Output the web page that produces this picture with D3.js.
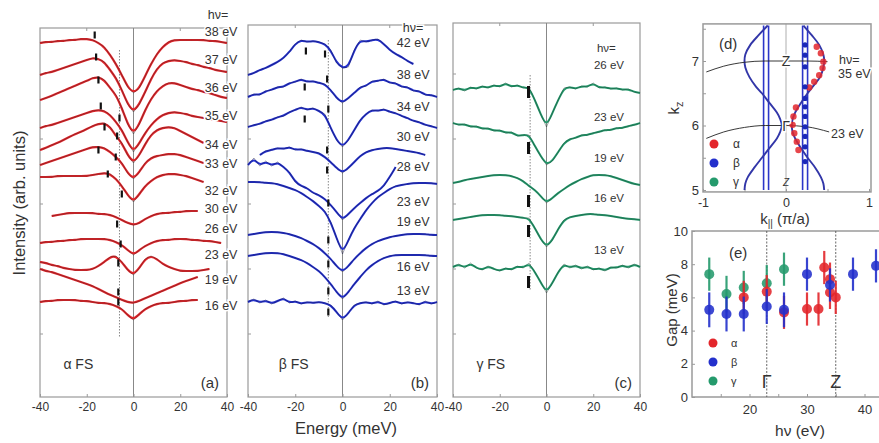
<!DOCTYPE html>
<html>
<head>
<meta charset="utf-8">
<script src="https://cdn.jsdelivr.net/npm/d3@7"></script>
<style>
  body { margin: 0; background: #fff; }
  text { font-family: "Liberation Sans", Arial, sans-serif; fill: #333; }
</style>
</head>
<body>
<svg id="fig" width="879" height="443"></svg>
<script>
// ---------- DATA ----------
// energy grid (meV) shared by all EDC curves
const energyGrid = [-40,-37.5,-35,-32.5,-30,-27.5,-25,-22.5,-20,-17.5,-15,-12.5,-10,-7.5,-5,-2.5,0,
  2.5,5,7.5,10,12.5,15,17.5,20,22.5,25,27.5,30,32.5,35,37.5,40];

// (a) alpha FS, intensity in arb. units (offset curves)
const hvA = [38,37,36,35,34,33,32,30,26,23,19,16];
const edcA = [
  [357,358,358,359,359,360,360,361,361,360,357,353,345,336,325,313,307,312,324,336,346,353,358,360,360,360,360,360,360,359,359,358,357],
  [325,327,328,330,332,334,336,338,340,342,341,338,330,322,310,296,288,296,308,321,331,337,339,340,339,338,336,335,333,332,330,329,328],
  [300,302,304,307,309,312,314,317,319,322,323,320,312,305,292,276,266,276,290,301,309,314,317,317,315,313,311,310,308,307,305,303,302],
  [272,274,275,277,279,281,283,285,287,289,290,289,285,278,270,258,248,257,267,275,281,285,287,288,287,286,284,283,282,281,280,279,278],
  [250,252,255,257,260,263,266,268,271,274,276,277,273,264,257,245,237,245,256,265,270,272,273,272,269,266,263,260,257,null,null,null,null],
  [235,237,239,241,243,245,247,249,251,253,253,252,248,243,237,227,221,228,237,242,244,245,246,246,245,243,241,239,237,null,null,null,null],
  [223,223,223,224,224,224,224,224,224,225,226,227,226,221,214,205,198,206,214,219,223,225,226,226,225,224,222,220,218,null,null,null,null],
  [null,null,184,185,186,187,187,187,187,187,186,186,185,183,180,177,175,177,181,184,186,187,187,188,188,189,189,189,null,null,null,null,null],
  [157,158,158,159,159,160,160,161,161,161,161,161,160,158,155,150,145,150,154,157,159,160,160,161,161,161,160,160,159,159,158,157,null],
  [138,137,135,134,132,131,130,130,130,131,134,138,143,144,138,130,125,132,141,144,141,136,133,131,129,129,129,129,130,131,null,null,null],
  [131,129,128,126,124,122,120,118,116,114,111,108,105,103,100,98,97,99,102,104,107,109,112,114,117,119,121,123,null,null,null,null,null],
  [98,99,99,100,100,100,100,99,99,98,97,97,96,94,91,85,80,86,91,94,96,97,97,98,99,99,100,100,null,null,null,null,null]
];
const labelLevelA = [368,340,312,284,255,236,209,191,171,145,120,94];
const gapMarksA = [[-16.6,365],[-16,343],[-15,320],[-14,294],[-6,282],[-12.4,273],[-7,264],
  [-15,250],[-7.6,243],[-11,226],[-5,206],[-7,176],[-5.5,156],[-6.5,137],[-6.5,108],[-6.5,98]];

// (b) beta FS
const hvB = [42,38,34,30,28,23,19,16,13];
const edcB = [
  [325,327,330,332,335,338,342,348,356,360,358,359,358,356,350,337,332,333,350,360,358,360,361,356,350,346,343,339,336,null,null,null,null],
  [303,306,305,309,310,313,313,317,318,321,318,319,317,316,310,302,297,302,307,313,314,319,319,321,317,317,313,313,309,309,305,305,303],
  [273,275,276,279,280,283,284,288,290,293,290,292,289,286,272,260,253,260,270,280,286,290,289,291,288,287,284,282,279,278,275,274,272],
  [null,null,245,249,250,252,251,253,250,251,249,248,247,243,238,232,227,232,238,244,248,250,251,252,252,251,250,249,248,247,245,null,null],
  [235,242,234,239,234,238,233,228,218,214,212,207,205,201,195,188,180,186,192,197,202,206,209,214,223,233,null,null,null,null,null,null,null],
  [218,218,218,217,217,216,214,212,210,207,203,199,194,189,178,162,146,160,172,181,190,197,203,207,211,214,215,216,217,217,217,217,216],
  [165,166,167,168,168,168,167,166,164,162,159,156,152,147,141,134,128,134,141,147,152,156,159,161,163,164,165,166,166,166,166,165,165],
  [144,145,146,147,147,147,146,144,142,140,137,133,129,123,116,108,101,108,116,123,130,135,139,142,144,145,145,145,145,145,145,144,144],
  [98,101,97,100,96,99,102,97,99,96,98,97,98,97,95,88,80,87,95,97,98,96,99,95,97,99,96,98,97,95,99,96,98]
];
const labelLevelB = [357,325,293,263,233,198,178,133,109];
const gapMarksB = [[-15.5,349],[-7.4,346],[-16,313],[-6.5,321],[-16,281],[-6,291],[-6.5,250],
  [-6.5,230],[-6,197],[-6,160],[-6,136],[-6,109],[-6,88]];

// (c) gamma FS
const hvC = [26,23,19,16,13];
const edcC = [
  [310,312,309,313,311,314,312,315,313,317,313,315,312,313,300,286,273,287,300,312,313,311,314,313,317,312,313,311,312,310,311,308,307],
  [277,275,276,273,274,271,272,269,270,267,268,264,265,265,254,244,235,239,248,257,261,262,265,265,267,268,270,270,272,272,274,275,277],
  [217,218,220,221,222,223,224,225,225,225,224,222,219,214,210,204,197,202,207,211,215,218,221,223,225,225,225,224,222,220,218,216,215],
  [180,181,182,183,184,185,185,185,185,184,184,183,182,182,172,161,153,160,171,180,183,184,185,186,186,185,185,184,183,182,181,181,180],
  [133,136,132,137,132,130,134,131,129,132,130,134,132,137,128,118,107,117,128,136,132,135,131,134,130,132,129,133,132,135,132,136,133]
];
const labelLevelC = [335,283,242,202,150];
const gapMarksC = [[-7.7,308],[-7.7,252],[-7.7,199],[-7.7,169],[-7.7,118]];

// (d) Fermi surface in kx-kz
const kzGrid = [7.55,7.4,7.25,7.1,7.0,6.9,6.75,6.6,6.5,6.35,6.2,6.1,6.0,5.9,5.8,5.65,5.5,5.35,5.2,5.1,5.0];
const kxLeftFS = [-0.22,-0.33,-0.43,-0.49,-0.5,-0.49,-0.44,-0.36,-0.29,-0.2,-0.11,-0.07,-0.05,-0.07,-0.11,-0.2,-0.29,-0.38,-0.46,-0.49,-0.5];
const kxRightFS = [0.21,0.31,0.4,0.45,0.46,0.45,0.41,0.32,0.26,0.18,0.11,0.08,0.07,0.08,0.11,0.18,0.26,0.35,0.42,0.45,0.46];
const kxStraightFS = [-0.27,-0.21,0.2,0.26];
const kxAlphaD = [0.37,0.42,0.45,0.44,0.40,0.34,0.28,0.12,0.09,0.08,0.10,0.13,0.15];
const kzAlphaD = [7.22,7.12,6.99,6.89,6.78,6.68,6.59,6.28,6.14,6.01,5.88,5.75,5.62];
const kxBetaD = [0.23,0.23,0.23,0.23,0.23,0.23,0.23,0.23,0.23,0.23,0.23];
const kzBetaD = [7.25,7.09,6.91,6.60,6.42,6.29,6.14,5.98,5.83,5.67,5.44];
const cut35Kx = [-0.96,-0.75,-0.5,-0.25,0,0.25,0.5];
const cut35Kz = [6.83,6.92,6.98,7.0,7.0,7.0,6.99];
const cut23Kx = [-0.96,-0.75,-0.5,-0.25,0,0.25,0.52];
const cut23Kz = [5.80,5.90,5.97,6.0,6.0,5.98,5.90];

// (e) gap vs photon energy
const hvAlpha = [19,23,26,30,32,33,34,34,35];
const gapAlpha = [6.0,6.35,5.1,5.3,5.3,7.8,7.1,6.3,6.0];
const errAlpha = [1,1,1,1,1,1,1,1,1];
const hvBeta = [13,16,19,23,26,30,34,38,42];
const gapBeta = [5.25,5.0,5.0,5.45,5.25,7.4,6.75,7.4,7.9];
const errBeta = [1.05,1.05,1.05,1.05,1.05,1,1,1,1];
const hvGamma = [13,16,19,23,26];
const gapGamma = [7.4,6.2,6.6,6.85,7.7];
const errGamma = [1,1.1,1,1.1,1];

// ---------- DRAWING ----------
const svg = d3.select("#fig");
const red = "#e3262b", blue = "#2330cc", green = "#249a6c";
const frameCol = "#9a9a9a";

function styleAxis(ax, size) {
  ax.select(".domain").remove();
  ax.selectAll(".tick line").attr("stroke", frameCol);
  ax.selectAll("text").attr("font-size", size || 12.5).attr("fill", "#333");
}

function spectraPanel(p) {
  const g = svg.append("g");
  const x = d3.scaleLinear().domain([-40, 40]).range([p.left, p.right]);
  const y = d3.scaleLinear().domain([0, 400]).range([400, 0]);
  const bottom = 397;

  g.append("rect").attr("x", p.left).attr("y", p.top)
    .attr("width", p.right - p.left).attr("height", bottom - p.top)
    .attr("fill", "none").attr("stroke", frameCol).attr("stroke-width", 1.2);

  g.append("line").attr("x1", x(0)).attr("x2", x(0)).attr("y1", p.top).attr("y2", bottom)
    .attr("stroke", "#888").attr("stroke-width", 1);

  // dotted gap guide
  g.append("line").attr("x1", x(p.dotE)).attr("x2", x(p.dotE))
    .attr("y1", y(p.dotTop)).attr("y2", y(p.dotBot))
    .attr("stroke", "#888").attr("stroke-width", 1).attr("stroke-dasharray", "1.5,1.5");

  const ax = g.append("g").attr("transform", `translate(0,${bottom})`)
    .call(d3.axisBottom(x).tickValues([-40, -20, 0, 20, 40]).tickSize(-3).tickPadding(5)
      .tickFormat(d => String(d)));
  styleAxis(ax, 12);

  // top ticks and left ticks
  [-20, 20].forEach(e => {
    g.append("line").attr("x1", x(e)).attr("x2", x(e)).attr("y1", p.top).attr("y2", p.top + 3)
      .attr("stroke", frameCol);
  });
  [66, 131, 196, 261, 326].forEach(v => {
    g.append("line").attr("x1", p.left).attr("x2", p.left + 3).attr("y1", y(v)).attr("y2", y(v))
      .attr("stroke", frameCol);
  });

  const line = d3.line().defined(d => d[1] != null).x(d => x(d[0])).y(d => y(d[1]));
  p.rows.forEach(row => {
    const pts = energyGrid.map((e, j) => [e, row[j]]);
    g.append("path").attr("d", line.curve(d3.curveBasis)(pts))
      .attr("fill", "none").attr("stroke", p.color).attr("stroke-width", p.width);
    g.append("path").attr("d", line.curve(d3.curveLinear)(pts))
      .attr("fill", "none").attr("stroke", p.dark).attr("stroke-width", 0.7).attr("opacity", 0.6);
  });

  // gap markers
  p.marks.forEach(m => {
    g.append("rect").attr("x", x(m[0]) - p.markW / 2).attr("y", y(m[1]) - p.markH / 2)
      .attr("width", p.markW).attr("height", p.markH).attr("fill", "#111");
  });

  // photon energy labels
  const labX = x(p.labelE);
  g.append("text").attr("x", labX + p.hvDx).attr("y", y(p.hvLevel)).attr("dy", "0.35em")
    .attr("font-size", p.labelSize).text("hν=")
    .attr("stroke", "#fff").attr("stroke-width", 3).attr("paint-order", "stroke");
  p.hv.forEach((h, i) => {
    g.append("text").attr("x", labX).attr("y", y(p.levels[i])).attr("dy", "0.35em")
      .attr("font-size", p.labelSize).text(h + " eV")
      .attr("stroke", "#fff").attr("stroke-width", 3).attr("paint-order", "stroke");
  });

  g.append("text").attr("x", x(p.fsE)).attr("y", 369).attr("font-size", 14).text(p.fs);
  g.append("text").attr("x", p.right - 8).attr("y", 388).attr("text-anchor", "end")
    .attr("font-size", 15).text(p.tag);
}

spectraPanel({ left: 40, right: 227, top: 28, rows: edcA, hv: hvA, levels: labelLevelA,
  color: red, dark: "#3a2020", width: 2.2, marks: gapMarksA, markW: 2.2, markH: 7,
  dotE: -6, dotTop: 350, dotBot: 63, labelE: 30.5, hvDx: 3, hvLevel: 385, labelSize: 12.5,
  fs: "α FS", fsE: -30, tag: "(a)" });
spectraPanel({ left: 248, right: 437, top: 25, rows: edcB, hv: hvB, levels: labelLevelB,
  color: blue, dark: "#151540", width: 2.0, marks: gapMarksB, markW: 2.2, markH: 7,
  dotE: -6, dotTop: 360, dotBot: 83, labelE: 23, hvDx: 6, hvLevel: 372, labelSize: 12.5,
  fs: "β FS", fsE: -27, tag: "(b)" });
spectraPanel({ left: 453, right: 640, top: 23, rows: edcC, hv: hvC, levels: labelLevelC,
  color: green, dark: "#1e3a30", width: 2.0, marks: gapMarksC, markW: 3, markH: 12,
  dotE: -7, dotTop: 325, dotBot: 110, labelE: 20.3, hvDx: 3, hvLevel: 352, labelSize: 11.5,
  fs: "γ FS", fsE: -30, tag: "(c)" });

// shared axis titles for a-c
svg.append("text").attr("transform", "translate(25,203) rotate(-90)").attr("text-anchor", "middle")
  .attr("font-size", 16.5).text("Intensity (arb. units)");
svg.append("text").attr("x", 346).attr("y", 434).attr("text-anchor", "middle")
  .attr("font-size", 16.5).text("Energy (meV)");

// ---------- (d) ----------
(function () {
  const g = svg.append("g");
  const x = d3.scaleLinear().domain([-1, 1]).range([703, 869]);
  const y = d3.scaleLinear().domain([5, 7]).range([190, 61]);
  const x0 = 703, x1 = 871, yTop = y(7.575), yBot = y(4.97);

  g.append("rect").attr("x", x0).attr("y", yTop).attr("width", x1 - x0).attr("height", yBot - yTop)
    .attr("fill", "none").attr("stroke", frameCol).attr("stroke-width", 1.5);
  g.append("line").attr("x1", x(0)).attr("x2", x(0)).attr("y1", yTop).attr("y2", yBot)
    .attr("stroke", "#999").attr("stroke-width", 0.8);

  const axB = g.append("g").attr("transform", `translate(0,${yBot})`)
    .call(d3.axisBottom(x).tickValues([-1, -0.5, 0, 0.5, 1]).tickSize(-3).tickPadding(6)
      .tickFormat(d => Number.isInteger(d) ? String(d) : ""));
  styleAxis(axB);
  const axL = g.append("g").attr("transform", `translate(${x0},0)`)
    .call(d3.axisLeft(y).tickValues([5, 5.5, 6, 6.5, 7, 7.5]).tickSize(-3).tickPadding(4)
      .tickFormat(d => Number.isInteger(d) ? String(d) : ""));
  styleAxis(axL, 13);

  // straight beta sheets
  kxStraightFS.forEach(k => {
    g.append("line").attr("x1", x(k)).attr("x2", x(k)).attr("y1", y(7.55)).attr("y2", y(5))
      .attr("stroke", "#2c36c8").attr("stroke-width", 1.6);
  });
  const fsLine = d3.line().curve(d3.curveCatmullRom).x(d => x(d[0])).y(d => y(d[1]));
  [kxLeftFS, kxRightFS].forEach(arr => {
    g.append("path").attr("d", fsLine(arr.map((k, i) => [k, kzGrid[i]])))
      .attr("fill", "none").attr("stroke", "#3236a8").attr("stroke-width", 1.9);
  });

  // photon energy cuts
  const cutLine = d3.line().curve(d3.curveMonotoneX).x(d => x(d[0])).y(d => y(d[1]));
  g.append("path").attr("d", cutLine(cut35Kx.map((k, i) => [k, cut35Kz[i]])))
    .attr("fill", "none").attr("stroke", "#222").attr("stroke-width", 0.9);
  g.append("path").attr("d", cutLine(cut23Kx.map((k, i) => [k, cut23Kz[i]])))
    .attr("fill", "none").attr("stroke", "#222").attr("stroke-width", 0.9);

  kxAlphaD.forEach((k, i) => {
    g.append("circle").attr("cx", x(k)).attr("cy", y(kzAlphaD[i])).attr("r", 3.2)
      .attr("fill", red).attr("opacity", 0.85);
  });
  kxBetaD.forEach((k, i) => {
    g.append("circle").attr("cx", x(k)).attr("cy", y(kzBetaD[i])).attr("r", 2.6)
      .attr("fill", "#1a28b8");
  });

  const halo = s => s.attr("stroke", "#fff").attr("stroke-width", 3).attr("paint-order", "stroke");
  halo(g.append("text").attr("x", x(0)).attr("y", y(7)).attr("dy", "0.36em").attr("text-anchor", "middle")
    .attr("font-size", 14).text("Z"));
  halo(g.append("text").attr("x", x(0)).attr("y", y(6)).attr("dy", "0.36em").attr("text-anchor", "middle")
    .attr("font-size", 14).text("Γ"));
  g.append("text").attr("x", x(0)).attr("y", y(5.12)).attr("dy", "0.36em").attr("text-anchor", "middle")
    .attr("font-size", 10).attr("font-style", "italic").text("Z");
  halo(g.append("text").attr("x", 839).attr("y", 60).attr("dy", "0.35em").attr("font-size", 12.5).text("hν="));
  halo(g.append("text").attr("x", 838).attr("y", 74).attr("dy", "0.35em").attr("font-size", 12.5).text("35 eV"));
  halo(g.append("text").attr("x", 831).attr("y", 134).attr("dy", "0.35em").attr("font-size", 12.5).text("23 eV"));
  g.append("text").attr("x", 719).attr("y", 49).attr("font-size", 15).text("(d)");

  [[red, "α"], [blue, "β"], [green, "γ"]].forEach((d, i) => {
    g.append("circle").attr("cx", 714).attr("cy", 144 + i * 19).attr("r", 4.5).attr("fill", d[0]);
    g.append("text").attr("x", 733).attr("y", 144 + i * 19).attr("dy", "0.35em")
      .attr("font-size", 12).attr("fill", "#555").text(d[1]);
  });

  const kl = svg.append("text").attr("transform", "translate(679,108) rotate(-90)")
    .attr("text-anchor", "middle").attr("font-size", 15);
  kl.append("tspan").text("k");
  kl.append("tspan").attr("font-size", 11).attr("dy", 4).text("z");
  const kp = svg.append("text").attr("x", 785).attr("y", 224).attr("text-anchor", "middle").attr("font-size", 15);
  kp.append("tspan").text("k");
  kp.append("tspan").attr("font-size", 10).attr("dy", 3).text("||");
  kp.append("tspan").attr("dy", -3).text(" (π/a)");
})();

// ---------- (e) ----------
(function () {
  const g = svg.append("g");
  const x = d3.scaleLinear().domain([10, 45]).range([692, 893.25]);
  const y = d3.scaleLinear().domain([0, 10]).range([397, 231]);

  g.append("rect").attr("x", x(10)).attr("y", y(10)).attr("width", x(45) - x(10)).attr("height", y(0) - y(10))
    .attr("fill", "none").attr("stroke", frameCol).attr("stroke-width", 1.5);

  const axB = g.append("g").attr("transform", `translate(0,${y(0)})`)
    .call(d3.axisBottom(x).tickValues([15, 20, 25, 30, 35, 40]).tickSize(-3).tickPadding(8)
      .tickFormat(d => d % 10 === 0 ? String(d) : ""));
  styleAxis(axB, 13);
  const axL = g.append("g").attr("transform", `translate(${x(10)},0)`)
    .call(d3.axisLeft(y).tickValues([0, 2, 4, 6, 8, 10]).tickSize(-3).tickPadding(4));
  styleAxis(axL, 13);

  [23, 35].forEach(h => {
    g.append("line").attr("x1", x(h)).attr("x2", x(h)).attr("y1", y(10)).attr("y2", y(0))
      .attr("stroke", "#555").attr("stroke-width", 0.9).attr("stroke-dasharray", "2,1.5");
  });

  function series(hv, gap, err, col) {
    hv.forEach((h, i) => {
      g.append("line").attr("x1", x(h)).attr("x2", x(h))
        .attr("y1", y(gap[i] - err[i])).attr("y2", y(gap[i] + err[i]))
        .attr("stroke", col).attr("stroke-width", 2.2).attr("opacity", 0.9);
      g.append("circle").attr("cx", x(h)).attr("cy", y(gap[i])).attr("r", 5)
        .attr("fill", col).attr("opacity", 0.88);
    });
  }
  series(hvGamma, gapGamma, errGamma, green);
  series(hvAlpha, gapAlpha, errAlpha, red);
  series(hvBeta, gapBeta, errBeta, blue);

  g.append("text").attr("x", x(23)).attr("y", 388).attr("text-anchor", "middle").attr("font-size", 18).text("Γ");
  g.append("text").attr("x", x(35)).attr("y", 388).attr("text-anchor", "middle").attr("font-size", 18).text("Z");
  g.append("text").attr("x", 729).attr("y", 258).attr("font-size", 15).text("(e)");

  [[red, "α"], [blue, "β"], [green, "γ"]].forEach((d, i) => {
    g.append("circle").attr("cx", 713).attr("cy", 343 + i * 19).attr("r", 4.5).attr("fill", d[0]);
    g.append("text").attr("x", 731).attr("y", 343 + i * 19).attr("dy", "0.35em")
      .attr("font-size", 11).attr("fill", "#777").text(d[1]);
  });

  svg.append("text").attr("transform", "translate(677,310) rotate(-90)").attr("text-anchor", "middle")
    .attr("font-size", 15).text("Gap (meV)");
  svg.append("text").attr("x", 800).attr("y", 436).attr("text-anchor", "middle")
    .attr("font-size", 15.5).text("hν (eV)");
})();
</script>
</body>
</html>
